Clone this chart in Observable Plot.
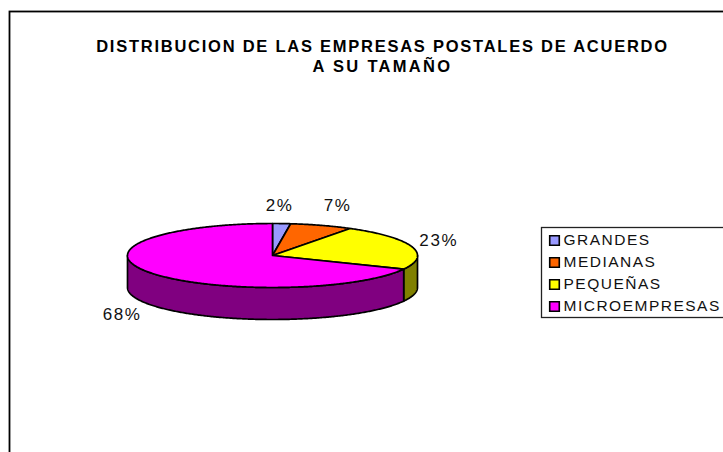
<!DOCTYPE html>
<html>
<head>
<meta charset="utf-8">
<script src="https://cdn.jsdelivr.net/npm/d3@7"></script>
<script src="https://cdn.jsdelivr.net/npm/@observablehq/plot@0.6"></script>
<style>
html,body{margin:0;padding:0;background:#fff;overflow:hidden}
svg{display:block;font-family:"Liberation Sans",Arial,sans-serif}
</style>
</head>
<body>
<div id="chart"></div>
<script>
const categories = ["GRANDES", "MEDIANAS", "PEQUEÑAS", "MICROEMPRESAS"];
const shares = [2, 7, 23, 68];
const topColors = ["#9999ff", "#ff6600", "#ffff00", "#ff00ff"];
const sideColors = ["#4d4d80", "#803300", "#808000", "#800080"];
const titleLines = ["DISTRIBUCION DE LAS EMPRESAS POSTALES DE ACUERDO", "A SU TAMAÑO"];

// Label offsets from each slice's rim point, legend and title placement (px)
const labelOffsets = [[-2, -18], [16, -20], [27, -6], [-28, 42]];
const titleSpacing = ["1.75px", "2.3px"];

const TAU = Math.PI * 2;
const total = d3.sum(shares);
const cum = d3.cumsum(shares);
const slices = categories.map((name, i) => ({
  name, i, value: shares[i],
  a0: (cum[i] - shares[i]) / total * TAU,
  a1: cum[i] / total * TAU
}));
const px = a => Math.sin(a);
const py = a => Math.cos(a);
const depth = 1; // side height, in units of the minor radius

function arcAngles(a0, a1) {
  const n = Math.max(2, Math.ceil((a1 - a0) / 0.01));
  return d3.range(n + 1).map(k => a0 + (a1 - a0) * k / n);
}

const topPts = [], sidePts = [];
for (const s of slices) {
  const ring = [[0, 0], ...arcAngles(s.a0, s.a1).map(a => [px(a), py(a)]), [0, 0]];
  ring.forEach(([x, y]) => topPts.push({x, y, id: s.name, color: topColors[s.i]}));
  const b0 = Math.max(s.a0, Math.PI / 2), b1 = Math.min(s.a1, Math.PI * 1.5);
  if (b1 > b0) {
    const as = arcAngles(b0, b1);
    const band = [
      ...as.map(a => [px(a), py(a)]),
      ...as.slice().reverse().map(a => [px(a), py(a) - depth])
    ];
    band.push(band[0]);
    band.forEach(([x, y]) => sidePts.push({x, y, id: s.name, color: sideColors[s.i]}));
  }
}

const pctLabels = slices.map(s => {
  const m = (s.a0 + s.a1) / 2;
  return {x: px(m), y: py(m), text: s.value + "%", off: labelOffsets[s.i]};
});

const legendY = [240, 262, 284, 306];

// Plot's text mark has no letter-spacing option, so set it on the rendered group.
const spaced = ls => (index, scales, values, dims, context, next) => {
  const g = next(index, scales, values, dims, context);
  g.style.letterSpacing = ls;
  return g;
};

const chart = Plot.plot({
  width: 723, height: 452,
  margin: 0,
  x: {domain: [-1, 1], range: [127, 417], axis: null},
  y: {domain: [1, -1], range: [223, 287], axis: null},
  marks: [
    Plot.frame({stroke: "#000", strokeWidth: 1.8, insetLeft: 9, insetTop: 11, insetRight: -10, insetBottom: -10}),
    Plot.line(sidePts, {x: "x", y: "y", z: "id", fill: "color", stroke: "#000", strokeWidth: 1.7, strokeLinejoin: "round"}),
    Plot.line(topPts, {x: "x", y: "y", z: "id", fill: "color", stroke: "#000", strokeWidth: 1.7, strokeLinejoin: "round"}),
    ...pctLabels.map(l => Plot.text([l], {
      x: "x", y: "y", text: "text", dx: l.off[0], dy: l.off[1],
      fontSize: 17, fill: "#111", render: spaced("1.6px")
    })),
    ...titleLines.map((t, i) => Plot.text([t], {
      frameAnchor: "top-left", dx: 382, dy: 46 + 20.5 * i, text: d => d, textAnchor: "middle",
      fontSize: 16.5, fontWeight: "bold", fill: "#000", lineAnchor: "middle", render: spaced(titleSpacing[i])
    })),
    Plot.frame({stroke: "#222", strokeWidth: 1.3, insetLeft: 541, insetTop: 227, insetBottom: 135, insetRight: -10}),
    ...categories.map((c, i) => Plot.dot([c], {
      frameAnchor: "top-left", dx: 554, dy: legendY[i], symbol: "square", r: 5.4,
      fill: topColors[i], stroke: "#000", strokeWidth: 1.6
    })),
    ...categories.map((c, i) => Plot.text([c], {
      frameAnchor: "top-left", dx: 563, dy: legendY[i], text: d => d, textAnchor: "start",
      lineAnchor: "middle", fontSize: 15.5, fill: "#111", render: spaced("1.5px")
    }))
  ]
});
d3.select(chart).style("background", "#fff");
document.getElementById("chart").appendChild(chart);
</script>
</body>
</html>
